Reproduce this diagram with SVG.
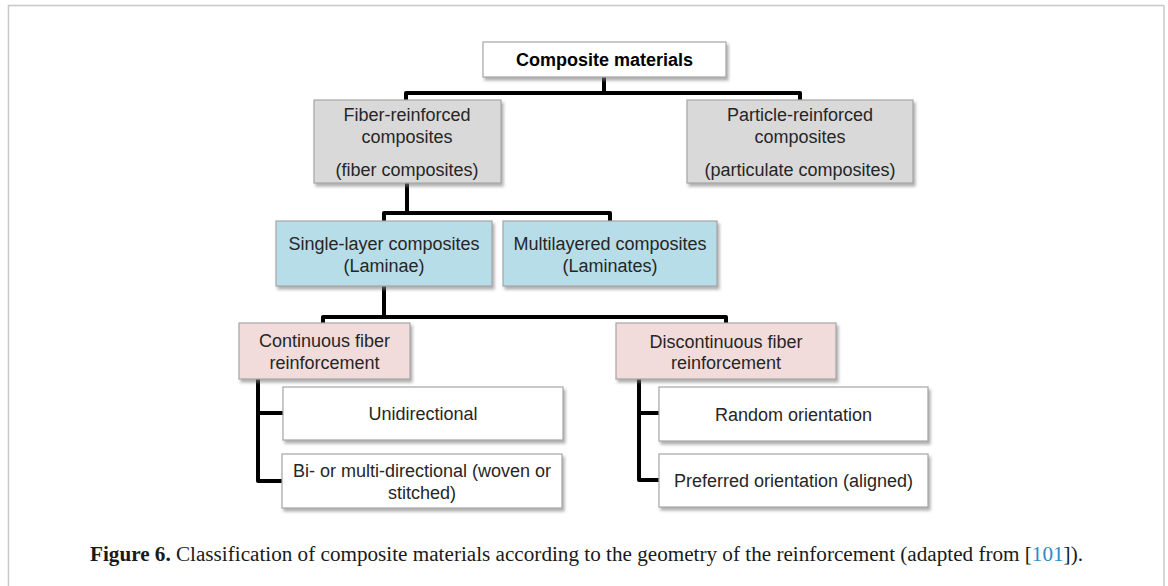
<svg xmlns="http://www.w3.org/2000/svg" width="1168" height="586" viewBox="0 0 1168 586">
  <defs>
    <filter id="sh" x="-10%" y="-10%" width="125%" height="140%">
      <feDropShadow dx="2" dy="3" stdDeviation="1.6" flood-color="#7a7a7a" flood-opacity="0.6"/>
    </filter>
  </defs>
  <style>
    .box { stroke: #a6a6a6; stroke-width: 1.2; filter: url(#sh); }
    .white { fill: #ffffff; }
    .gray { fill: #d9d9d9; }
    .blue { fill: #b7dde8; }
    .pink { fill: #f2dcdb; }
    .t { font-family: "Liberation Sans", Arial, sans-serif; font-size: 18px; fill: #262626; text-anchor: middle; }
    .tb { font-weight: bold; fill: #000000; }
    .conn { fill: none; stroke: #000000; stroke-width: 4; stroke-linejoin: round; stroke-linecap: butt; }
    .cap { font-family: "Liberation Serif", "Times New Roman", serif; font-size: 20px; fill: #1a1a1a; }
  </style>
  <rect width="1168" height="586" fill="#ffffff"/>
  <path d="M8.5,586 V5.5 H1164" fill="none" stroke="#c8c8c8" stroke-width="1.5"/>
  <path d="M1164,5.5 V586" fill="none" stroke="#c8c8c8" stroke-width="1.5"/>

  <g id="connectors">
    <path class="conn" d="M604,77 V93 M406,100 V93 H800 V100"/>
    <path class="conn" d="M407,183 V213 M384,221 V213 H610 V221"/>
    <path class="conn" d="M384,286 V317 M323,323 V317 H726 V323"/>
    <path class="conn" d="M258,379 V481 H282 M258,413 H283"/>
    <path class="conn" d="M639,379 V480 H659 M639,413 H659"/>
  </g>

  <g id="composite-materials">
    <rect class="box white" x="483" y="42" width="243" height="35"/>
    <text class="t tb" x="604.5" y="66">Composite materials</text>
  </g>
  <g id="fiber-reinforced">
    <rect class="box gray" x="314" y="100" width="187" height="83"/>
    <text class="t" x="407" y="121">Fiber-reinforced</text>
    <text class="t" x="407" y="143">composites</text>
    <text class="t" x="407" y="176">(fiber composites)</text>
  </g>
  <g id="particle-reinforced">
    <rect class="box gray" x="687" y="100" width="226" height="83"/>
    <text class="t" x="800" y="121">Particle-reinforced</text>
    <text class="t" x="800" y="143">composites</text>
    <text class="t" x="800" y="176">(particulate composites)</text>
  </g>
  <g id="single-layer">
    <rect class="box blue" x="276" y="221" width="216" height="65"/>
    <text class="t" x="384" y="250">Single-layer composites</text>
    <text class="t" x="384" y="272">(Laminae)</text>
  </g>
  <g id="multilayered">
    <rect class="box blue" x="503" y="221" width="214" height="65"/>
    <text class="t" x="610" y="250">Multilayered composites</text>
    <text class="t" x="610" y="272">(Laminates)</text>
  </g>
  <g id="continuous">
    <rect class="box pink" x="239" y="323" width="171" height="56"/>
    <text class="t" x="324.5" y="347">Continuous fiber</text>
    <text class="t" x="324.5" y="369">reinforcement</text>
  </g>
  <g id="discontinuous">
    <rect class="box pink" x="616" y="323" width="220" height="56"/>
    <text class="t" x="726" y="348">Discontinuous fiber</text>
    <text class="t" x="726" y="369">reinforcement</text>
  </g>
  <g id="unidirectional">
    <rect class="box white" x="283" y="387" width="280" height="53"/>
    <text class="t" x="423" y="420">Unidirectional</text>
  </g>
  <g id="bi-multi-directional">
    <rect class="box white" x="282" y="454" width="280" height="54"/>
    <text class="t" x="422" y="477">Bi- or multi-directional (woven or</text>
    <text class="t" x="422" y="499">stitched)</text>
  </g>
  <g id="random-orientation">
    <rect class="box white" x="659" y="387" width="269" height="54"/>
    <text class="t" x="793.5" y="421">Random orientation</text>
  </g>
  <g id="preferred-orientation">
    <rect class="box white" x="659" y="454" width="269" height="53"/>
    <text class="t" x="793.5" y="487">Preferred orientation (aligned)</text>
  </g>

  <text class="cap" x="90" y="561" textLength="993" lengthAdjust="spacingAndGlyphs"><tspan font-weight="bold">Figure 6.</tspan> Classification of composite materials according to the geometry of the reinforcement (adapted from [<tspan fill="#2b8cc4">101</tspan>]).</text>
</svg>
